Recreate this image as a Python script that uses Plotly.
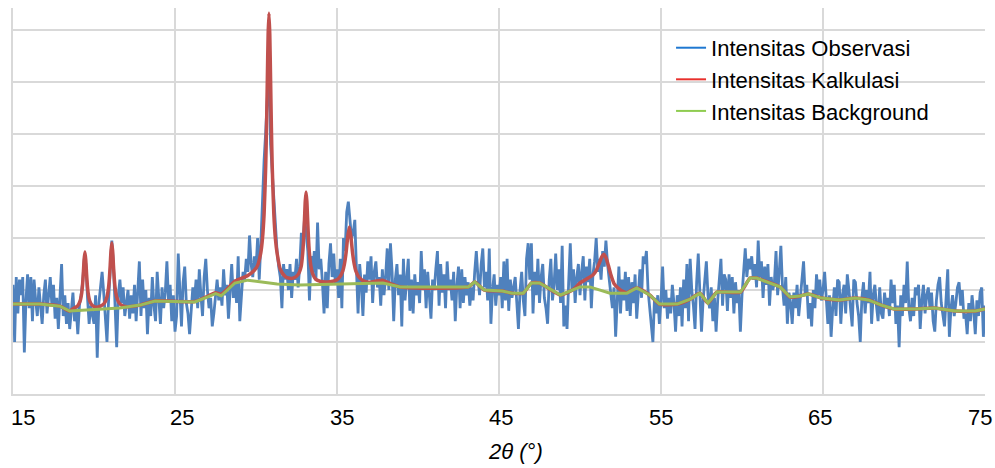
import numpy as np
import plotly.graph_objects as go

# ---------------- data ----------------
obs_start = 15.0
obs_step = 0.1
obs_y = [
    42, 20, 45, 31, 44, 38, 45, 16, 36, 46,
    33, 45, 28, 44, 36, 30, 41, 35, 27, 38,
    44, 31, 39, 45, 34, 42, 29, 37, 25, 36,
    50, 30, 38, 27, 35, 25, 33, 39, 28, 33,
    23, 34, 38, 43, 52, 50, 37, 27, 34, 30,
    27, 38, 14, 35, 42, 47, 39, 31, 20, 36,
    46, 59, 50, 31, 18, 38, 44, 35, 41, 30,
    36, 40, 29, 38, 31, 42, 28, 39, 51, 30,
    44, 33, 40, 23, 37, 30, 45, 34, 28, 47,
    35, 27, 41, 33, 39, 51, 36, 42, 28, 38,
    24, 30, 54, 38, 26, 43, 49, 35, 31, 23,
    34, 41, 36, 44, 33, 48, 38, 30, 45, 52,
    40, 33, 37, 26, 31, 38, 44, 36, 41, 34,
    48, 38, 42, 29, 40, 50, 37, 44, 35, 53,
    28, 40, 47, 44, 52, 47, 61, 50, 45, 53,
    48, 60, 44, 58, 77, 90, 101, 112, 127, 96,
    85, 73, 64, 55, 49, 45, 33, 50, 44, 48,
    40, 50, 37, 47, 44, 52, 41, 49, 62, 58,
    68, 61, 55, 36, 53, 47, 55, 44, 66, 48,
    52, 43, 31, 47, 33, 50, 58, 45, 54, 42,
    48, 37, 52, 33, 60, 55, 70, 74, 65, 60,
    62, 67, 48, 31, 50, 42, 30, 46, 39, 51,
    44, 53, 35, 47, 51, 41, 45, 34, 48, 38,
    45, 56, 40, 58, 47, 28, 44, 50, 38, 46,
    26, 52, 36, 45, 52, 32, 44, 31, 46, 38,
    43, 35, 55, 40, 48, 33, 47, 38, 29, 44,
    40, 48, 55, 34, 50, 39, 46, 33, 51, 40,
    44, 36, 47, 28, 42, 49, 33, 48, 35, 45,
    38, 43, 34, 41, 36, 47, 55, 45, 38, 50,
    56, 41, 47, 36, 56, 27, 40, 46, 34, 42,
    38, 45, 33, 51, 36, 52, 32, 44, 37, 41,
    45, 35, 25, 40, 47, 36, 30, 52, 58, 44,
    58, 31, 47, 38, 52, 35, 45, 50, 37, 33,
    27, 44, 52, 36, 42, 54, 40, 48, 35, 57,
    26, 34, 25, 43, 58, 40, 48, 35, 45, 50,
    38, 47, 53, 36, 49, 43, 52, 33, 46, 51,
    60, 47, 52, 44, 55, 49, 59, 50, 44, 38,
    33, 41, 22, 36, 49, 31, 44, 36, 47, 32,
    45, 30, 43, 35, 46, 29, 41, 48, 37, 53,
    50, 55, 40, 33, 28, 20, 37, 31, 38, 27,
    36, 49, 33, 40, 29, 37, 31, 42, 35, 24,
    38, 30, 41, 26, 44, 33, 50, 28, 52, 40,
    34, 25, 43, 54, 39, 24, 36, 44, 51, 38,
    33, 41, 28, 37, 24, 36, 45, 52, 34, 46,
    44, 32, 46, 37, 45, 31, 43, 35, 40, 24,
    38, 47, 56, 45, 52, 48, 53, 44, 50, 41,
    59, 45, 51, 37, 49, 42, 50, 34, 45, 40,
    43, 55, 38, 47, 57, 41, 34, 45, 27, 39,
    35, 27, 39, 33, 42, 30, 37, 44, 51, 38,
    42, 29, 35, 26, 40, 33, 46, 38, 44, 36,
    40, 47, 35, 27, 38, 22, 33, 41, 30, 44,
    43, 27, 38, 42, 31, 46, 40, 33, 26, 44,
    43, 35, 30, 20, 37, 43, 31, 40, 35, 47,
    27, 38, 42, 34, 28, 41, 31, 29, 39, 33,
    37, 30, 44, 35, 42, 27, 34, 18, 38, 30,
    42, 35, 51, 33, 28, 37, 30, 41, 38, 42,
    25, 36, 42, 31, 38, 41, 33, 39, 28, 24,
    36, 42, 45, 35, 30, 26, 37, 48, 22, 33,
    38, 30, 35, 41, 43, 34, 40, 29, 31, 23,
    35, 28, 38, 32, 23, 36, 30, 39, 41, 22,
    34,
]

calc_x = [15.0, 16.67, 17.9, 18.5, 18.74, 18.99, 19.14, 19.24, 19.29, 19.34,
          19.39, 19.44, 19.49, 19.54, 19.59, 19.64, 19.74, 19.89, 20.1, 20.4,
          20.65, 20.8, 20.9, 20.95, 21.0, 21.05, 21.1, 21.15, 21.2, 21.25,
          21.3, 21.4, 21.55, 21.8, 22.1, 22.84, 23.77, 26.23, 27.1, 27.5,
          27.85, 28.7, 29.5, 29.9, 30.1, 30.3, 30.4, 30.5, 30.6, 30.65,
          30.7, 30.75, 30.8, 30.85, 30.9, 30.95, 31.0, 31.1, 31.2, 31.3,
          31.5, 31.8, 32.0, 32.3, 32.6, 32.79, 32.89, 32.94, 32.99, 33.04,
          33.09, 33.14, 33.19, 33.24, 33.29, 33.39, 33.49, 33.69, 34.0, 34.26,
          34.56, 34.96, 35.16, 35.36, 35.46, 35.56, 35.66, 35.76, 35.86, 35.96,
          36.06, 36.16, 36.36, 36.56, 36.96, 37.3, 37.8, 38.3, 38.9, 43.1,
          43.5, 44.1, 45.2, 45.8, 46.5, 47.0, 47.5, 48.8, 49.6, 50.0,
          50.4, 50.8, 51.0, 51.2, 51.35, 51.48, 51.6, 51.75, 51.9, 52.1,
          52.35, 52.6, 52.9, 53.5, 54.3, 54.9, 56.0, 56.8, 57.4, 57.9,
          58.45, 59.9, 60.5, 60.9, 61.6, 62.35, 62.96, 63.6, 64.1, 64.9,
          66.0, 67.0, 67.8, 68.6, 69.4, 70.7, 71.9, 73.15, 74.4, 75.0]
calc_y = [34.6, 34.6, 33.8, 31.9, 32.9, 33.9, 35.7, 38.8, 41.8, 46.3,
          51.7, 54.6, 51.7, 46.3, 41.8, 38.8, 35.7, 34.1, 33.4, 33.8,
          35.0, 37.3, 41.1, 44.6, 49.5, 55.2, 58.1, 55.2, 49.5, 44.6,
          41.1, 37.3, 35.0, 33.8, 33.6, 34.2, 35.8, 35.6, 37.9, 39.0,
          38.4, 43.4, 45.6, 47.6, 49.5, 54.5, 59.8, 69.3, 87.9, 102.6,
          121.0, 138.6, 146.5, 138.6, 121.0, 102.6, 87.9, 69.3, 59.6, 54.3,
          48.0, 45.2, 44.6, 44.6, 46.0, 49.1, 54.8, 59.9, 66.7, 74.1,
          77.7, 74.1, 66.7, 59.9, 54.8, 49.1, 46.4, 44.1, 43.3, 43.1,
          43.2, 43.8, 44.9, 47.4, 50.0, 54.3, 60.4, 64.2, 60.4, 54.3,
          50.0, 47.4, 44.9, 43.8, 43.0, 43.3, 43.8, 42.5, 41.2, 41.2,
          43.1, 40.0, 39.6, 38.8, 38.8, 42.7, 42.7, 38.1, 40.3, 42.7,
          44.2, 45.8, 47.5, 50.5, 52.8, 53.8, 52.5, 49.5, 46.0, 42.5,
          40.8, 39.6, 39.0, 40.8, 38.1, 34.6, 34.6, 36.5, 38.8, 35.0,
          39.2, 39.2, 44.6, 44.6, 43.1, 41.2, 37.3, 37.7, 38.5, 36.9,
          36.2, 36.9, 36.2, 34.2, 32.7, 32.7, 33.1, 31.9, 31.9, 32.7]

bg_x = [15.0, 16.67, 17.9, 18.5, 21.6, 22.84, 23.77, 26.23, 27.1, 27.5,
        27.85, 28.7, 29.5, 30.25, 31.3, 32.7, 34.75, 37.84, 38.9, 43.1,
        43.5, 44.1, 45.2, 45.8, 46.5, 47.0, 47.5, 48.8, 50.0, 50.6,
        51.85, 52.9, 53.5, 54.3, 54.9, 56.0, 56.8, 57.4, 57.9, 58.45,
        59.9, 60.5, 60.9, 61.6, 62.35, 62.96, 63.6, 64.1, 64.9, 66.0,
        67.0, 67.8, 68.6, 69.4, 70.7, 71.9, 73.15, 74.4, 75.0]
bg_y = [34.6, 34.6, 33.8, 31.9, 33.1, 34.2, 35.8, 35.4, 37.6, 38.6,
        37.8, 42.7, 43.8, 43.1, 42.3, 41.9, 42.3, 42.7, 41.2, 41.2,
        43.1, 40.0, 39.6, 38.8, 38.8, 42.7, 42.7, 38.1, 41.2, 41.2,
        38.8, 38.8, 40.8, 38.1, 34.6, 34.6, 36.5, 38.8, 35.0, 39.2,
        39.2, 44.6, 44.6, 43.1, 41.2, 37.3, 37.7, 38.5, 36.9, 36.2,
        36.9, 36.2, 34.2, 32.7, 32.7, 33.1, 31.9, 31.9, 32.7]

series_names = ["Intensitas Observasi", "Intensitas Kalkulasi", "Intensitas Background"]
x_ticks = [15, 25, 35, 45, 55, 65, 75]
x_tick_labels = ["15", "25", "35", "45", "55", "65", "75"]
x_title = "2θ (°)"

# ---------------- figure ----------------
obs_x = np.round(obs_start + obs_step * np.arange(len(obs_y)), 2)

line_cols = ["#4f81bd", "#c0504d", "#9bbb59"]
legend_cols = ["#1f78d1", "#e8302c", "#8fcc50"]
FONT = "Liberation Sans"
grid = "#d9d9d9"

fig = go.Figure()
fig.add_trace(go.Scatter(x=obs_x, y=obs_y, mode="lines", showlegend=False,
                         line=dict(color=line_cols[0], width=2.8)))
fig.add_trace(go.Scatter(x=calc_x, y=calc_y, mode="lines", showlegend=False,
                         line=dict(color=line_cols[1], width=3.5, shape="spline", smoothing=0.6)))
fig.add_trace(go.Scatter(x=bg_x, y=bg_y, mode="lines", showlegend=False,
                         line=dict(color=line_cols[2], width=3)))
for name, c in zip(series_names, legend_cols):
    fig.add_trace(go.Scatter(x=[None], y=[None], mode="lines", name=name,
                             line=dict(color=c, width=2)))

# tick labels: placed on the x scale, spread slightly inward like the source chart
n = len(x_ticks)
for i, (tv, tl) in enumerate(zip(x_ticks, x_tick_labels)):
    fig.add_annotation(x=tv, xref="x", y=0, yref="paper", text=tl, showarrow=False,
                       xanchor="center", yanchor="middle",
                       xshift=9.5 - 14.5 * i / (n - 1), yshift=-23,
                       font=dict(size=22, family=FONT, color="#000000"))
fig.add_annotation(x=0.5, xref="paper", y=0, yref="paper", text="<i>" + x_title + "</i>",
                   showarrow=False, xanchor="center", yanchor="middle",
                   xshift=16, yshift=-57,
                   font=dict(size=22, family=FONT, color="#000000"))

fig.update_layout(
    width=995, height=468,
    margin=dict(l=13, r=10, t=8, b=74, autoexpand=False),
    paper_bgcolor="white", plot_bgcolor="white",
    font=dict(family=FONT, color="#000000"),
    showlegend=True,
    legend=dict(x=0.677, y=0.951, xanchor="left", yanchor="top",
                bgcolor="rgba(255,255,255,0)", font=dict(size=22, family=FONT)),
    xaxis=dict(range=[15, 75], tickvals=x_ticks, showticklabels=False,
               showgrid=True, gridcolor=grid, gridwidth=2, zeroline=False,
               showline=True, linecolor=grid, linewidth=2, ticks="", automargin=False),
    yaxis=dict(range=[0, 148.5], dtick=20, showticklabels=False, automargin=False,
               showgrid=True, gridcolor=grid, gridwidth=2, zeroline=False,
               showline=True, linecolor=grid, linewidth=2, ticks=""),
)
fig.write_html("out.html", config={"displayModeBar": False},
               post_script="document.body.style.margin='0';document.body.style.overflow='hidden';")
